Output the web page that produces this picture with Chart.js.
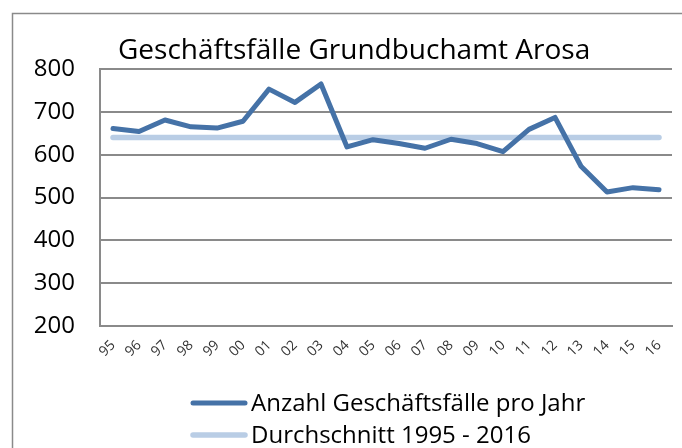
<!DOCTYPE html>
<html>
<head>
<meta charset="utf-8">
<script src="https://cdn.jsdelivr.net/npm/chart.js@4/dist/chart.umd.min.js"></script>
<style>
html,body{margin:0;padding:0;background:#fff;}
#wrap{width:682px;height:448px;position:relative;}
</style>
</head>
<body>
<div id="wrap"><canvas id="c" width="682" height="448"></canvas></div>
<script>
const years = ['95','96','97','98','99','00','01','02','03','04','05','06','07','08','09','10','11','12','13','14','15','16'];
const geschaeftsfaelle = [661,654,681,665,662,678,753,722,765,618,635,626,615,636,626,607,659,687,573,513,523,518];
const durchschnitt = [640,640,640,640,640,640,640,640,640,640,640,640,640,640,640,640,640,640,640,640,640,640];
const yTicks = [200,300,400,500,600,700,800];
const titleText = 'Geschäftsfälle Grundbuchamt Arosa';
const seriesLabels = ['Anzahl Geschäftsfälle pro Jahr','Durchschnitt 1995 - 2016'];

const FONT = "'Open Sans', 'Noto Sans', sans-serif";
const GRID = '#8a8a8a';

const framePlugin = {
  id: 'frame',
  beforeDraw(chart) {
    const ctx = chart.ctx;
    ctx.save();
    ctx.strokeStyle = GRID;
    ctx.lineWidth = 1.5;
    ctx.beginPath();
    ctx.moveTo(12.5, 448);
    ctx.lineTo(12.5, 13.5);
    ctx.lineTo(682, 13.5);
    ctx.stroke();
    ctx.restore();
  }
};

const shiftPlugin = {
  id: 'shift',
  afterLayout(chart) {
    if (chart.titleBlock) {
      chart.titleBlock.left = 118;
    }
  }
};

const legendPlugin = {
  id: 'customLegend',
  afterDraw(chart) {
    const ctx = chart.ctx;
    ctx.save();
    ctx.font = "24px " + FONT;
    ctx.textBaseline = 'middle';
    ctx.textAlign = 'left';
    chart.data.datasets.forEach((ds, i) => {
      const y = 403 + 32 * i;
      ctx.strokeStyle = ds.borderColor;
      ctx.lineWidth = ds.borderWidth;
      ctx.lineCap = 'round';
      ctx.beginPath();
      ctx.moveTo(193, y);
      ctx.lineTo(245, y);
      ctx.stroke();
      ctx.fillStyle = '#000';
      ctx.fillText(ds.label, 251, y + 1);
    });
    ctx.restore();
  }
};

new Chart(document.getElementById('c'), {
  type: 'line',
  data: {
    labels: years,
    datasets: [
      {
        label: seriesLabels[0],
        data: geschaeftsfaelle,
        borderColor: '#4572A7',
        borderWidth: 5,
        pointRadius: 0,
        borderJoinStyle: 'round',
        borderCapStyle: 'round',
        tension: 0,
        order: 1
      },
      {
        label: seriesLabels[1],
        data: durchschnitt,
        borderColor: '#B9CDE5',
        borderWidth: 5.5,
        pointRadius: 0,
        borderCapStyle: 'round',
        tension: 0,
        order: 2
      }
    ]
  },
  options: {
    responsive: false,
    animation: false,
    layout: { padding: { left: 0, right: 5, top: 34, bottom: 64 } },
    plugins: {
      legend: { display: false },
      tooltip: { enabled: false },
      title: {
        display: true,
        text: titleText,
        align: 'start',
        color: '#000',
        font: { family: FONT, size: 28, weight: 'normal', lineHeight: 1.2 },
        padding: { top: 0, bottom: 1.4 }
      }
    },
    scales: {
      x: {
        offset: true,
        grid: { display: false, drawTicks: false },
        border: { display: true, color: GRID, width: 2 },
        ticks: {
          color: '#333',
          font: { family: FONT, size: 14 },
          minRotation: 45,
          maxRotation: 45,
          autoSkip: false,
          padding: 11
        },
        afterFit(scale) { scale.height = 58; }
      },
      y: {
        min: 200,
        max: 800,
        afterBuildTicks(scale) { scale.ticks = yTicks.map(v => ({ value: v })); },
        grid: { color: GRID, lineWidth: 2, drawTicks: false },
        border: { display: true, color: GRID, width: 2 },
        ticks: {
          color: '#000',
          font: { family: FONT, size: 24 },
          padding: 25
        },
        afterFit(scale) { scale.width = 100; }
      }
    }
  },
  plugins: [framePlugin, shiftPlugin, legendPlugin]
});
</script>
</body>
</html>
